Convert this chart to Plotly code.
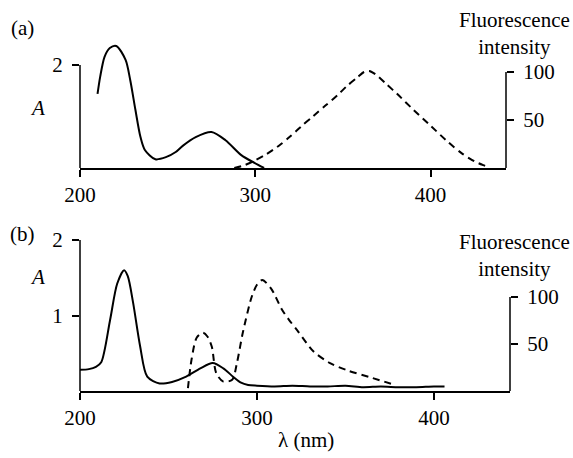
import plotly.graph_objects as go

# --- DATA ---
# panel (a): absorbance (solid) and fluorescence (dashed)
a_abs_nm = [210, 211.5, 214, 217, 220.7, 226, 228.7, 231.6, 234.5, 237, 243, 249, 254.6, 258.6, 266, 275, 283, 292, 299.5, 305]
a_abs_A = [1.44, 1.77, 2.16, 2.33, 2.37, 2.10, 1.70, 1.13, 0.60, 0.35, 0.17, 0.21, 0.31, 0.43, 0.60, 0.70, 0.54, 0.25, 0.10, 0.0]

a_fl_nm = [288, 294, 300, 306, 314, 320, 326, 333, 340, 347, 352, 358, 362, 365, 369, 375, 381, 390, 400, 410, 418, 425, 430, 433]
a_fl_I = [0, 3, 8, 14, 24, 33, 43, 54, 65, 76, 85, 94, 100, 101, 97, 87, 77, 61, 44, 27, 15, 7, 3, 1]

# panel (b)
b_abs_nm = [200, 205, 209, 212, 217, 221, 224.9, 227, 230, 234, 238, 245, 252, 260, 268, 275, 281, 286.5, 291, 295,
            300, 310, 320, 330, 340, 350, 360, 370, 380, 390, 400, 406]
b_abs_A = [0.28, 0.29, 0.32, 0.38, 0.94, 1.42, 1.60, 1.52, 1.17, 0.59, 0.19, 0.10, 0.12, 0.19, 0.30, 0.37, 0.30, 0.19, 0.11, 0.08,
           0.07, 0.06, 0.07, 0.06, 0.06, 0.07, 0.05, 0.06, 0.05, 0.05, 0.06, 0.06]

b_fl_nm = [261, 263, 266, 269.5, 272, 274.5, 277, 281, 286, 288.7, 292, 297, 300, 303, 308, 314, 318, 323, 332, 341, 351, 365, 377]
b_fl_I = [3, 33, 57, 62, 58, 47, 19, 10, 12, 30, 62, 100, 113, 118, 109, 87, 76, 64, 42, 30, 22, 14, 7]

x_ticks = [200, 300, 400]
a_A_ticks = [2]
b_A_ticks = [1, 2]
fl_ticks = [50, 100]

# --- LAYOUT HELPERS ---
W, H = 573, 458
FONT = "Liberation Serif"
FS = 21


def py(px):
    # pixel row -> paper fraction
    return 1 - px / H


def px_x(px):
    return px / W


axis_common = dict(showgrid=False, zeroline=False, ticks="outside", ticklen=7, tickwidth=1.5,
                   tickcolor="black", tickfont=dict(family=FONT, size=FS, color="black"))
y_common = dict(axis_common, ticklabelstandoff=5)

fig = go.Figure()

line_solid = dict(color="black", width=2, shape="spline", smoothing=0.8)
line_dash = dict(color="black", width=2, dash="7px,5px", shape="spline", smoothing=0.8)

fig.add_trace(go.Scatter(x=a_abs_nm, y=a_abs_A, mode="lines", line=line_solid, xaxis="x", yaxis="y"))
fig.add_trace(go.Scatter(x=a_fl_nm, y=a_fl_I, mode="lines", line=line_dash, xaxis="x", yaxis="y2"))
fig.add_trace(go.Scatter(x=b_abs_nm, y=b_abs_A, mode="lines", line=line_solid, xaxis="x2", yaxis="y3"))
fig.add_trace(go.Scatter(x=b_fl_nm, y=b_fl_I, mode="lines", line=line_dash, xaxis="x2", yaxis="y4"))

# panel (a): baseline at px 168, data area top px 30
a_bot, a_top = 168, 30
a_A_scale, a_I_scale = 51.5, 0.96
# panel (b): baseline px 391, top px 232
b_bot, b_top = 391, 232
b_A_scale, b_I_scale = 75.5, 0.94

fig.update_layout(
    width=W, height=H,
    margin=dict(l=0, r=0, t=0, b=0, pad=0, autoexpand=False),
    paper_bgcolor="white", plot_bgcolor="white",
    showlegend=False,
    font=dict(family=FONT, size=FS, color="black"),
    xaxis=dict(domain=[px_x(80), px_x(506)], range=[200, 443], anchor="y", tickvals=x_ticks,
               showline=True, linecolor="black", linewidth=1.5, **axis_common),
    yaxis=dict(domain=[py(a_bot), py(a_top)], range=[0, (a_bot - a_top) / a_A_scale], anchor="x",
               tickvals=a_A_ticks, showline=False, **y_common),
    yaxis2=dict(overlaying="y", side="right", anchor="x", range=[0, (a_bot - a_top) / a_I_scale],
                tickvals=fl_ticks, showline=False, **y_common),
    xaxis2=dict(domain=[px_x(80), px_x(510)], range=[200, 443], anchor="y3", tickvals=x_ticks,
                showline=True, linecolor="black", linewidth=1.5, **axis_common),
    yaxis3=dict(domain=[py(b_bot), py(b_top)], range=[0, (b_bot - b_top) / b_A_scale], anchor="x2",
                tickvals=b_A_ticks, showline=False, **y_common),
    yaxis4=dict(overlaying="y3", side="right", anchor="x2", range=[0, (b_bot - b_top) / b_I_scale],
                tickvals=fl_ticks, showline=False, **y_common),
)

# vertical axis lines, ending at the top tick
axis_line = dict(color="black", width=1.5)
fig.add_shape(type="line", xref="x domain", x0=0, x1=0, yref="y", y0=0, y1=max(a_A_ticks), line=axis_line)
fig.add_shape(type="line", xref="x domain", x0=1, x1=1, yref="y2", y0=0, y1=max(fl_ticks), line=axis_line)
fig.add_shape(type="line", xref="x2 domain", x0=0, x1=0, yref="y3", y0=0, y1=max(b_A_ticks), line=axis_line)
fig.add_shape(type="line", xref="x2 domain", x0=1, x1=1, yref="y4", y0=0, y1=max(fl_ticks), line=axis_line)


# text labels
def label(text, x, y, italic=False, size=FS):
    fig.add_annotation(text=f"<i>{text}</i>" if italic else text, x=px_x(x), y=py(y), xref="paper", yref="paper",
                       showarrow=False, xanchor="center", yanchor="middle",
                       font=dict(family=FONT, size=size, color="black"))


label("(a)", 22, 28)
label("(b)", 22, 234)
label("A", 37, 108, italic=True)
label("A", 37, 277, italic=True)
label("Fluorescence<br>intensity", 514, 33)
label("Fluorescence<br>intensity", 514, 255)
label("λ (nm)", 306, 440)

fig.write_html("out.html", config={"displayModeBar": False},
               post_script="document.body.style.margin='0';")
